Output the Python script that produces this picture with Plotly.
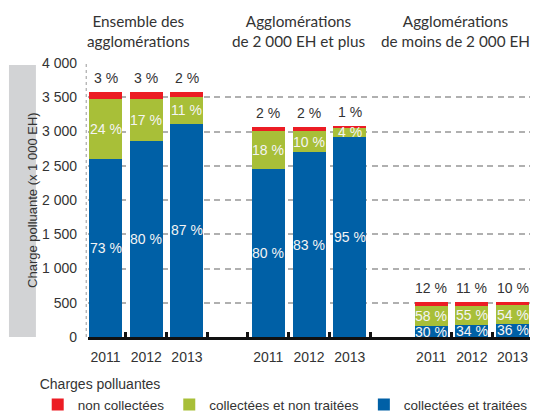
import plotly.graph_objects as go

years = ["2011", "2012", "2013"]
groups = ["Ensemble des<br>agglomérations",
          "Agglomérations<br>de 2 000 EH et plus",
          "Agglomérations<br>de moins de 2 000 EH"]

# values (x 1 000 EH), order: group1 2011-2013, group2 2011-2013, group3 2011-2013
traitees = [2600, 2860, 3110, 2453, 2700, 2925, 160, 180, 190]
non_traitees = [870, 610, 400, 554, 307, 135, 293, 278, 273]
non_collectees = [100, 100, 65, 63, 63, 15, 62, 57, 52]

pct_traitees = ["73 %", "80 %", "87 %", "80 %", "83 %", "95 %", "30 %", "34 %", "36 %"]
pct_non_traitees = ["24 %", "17 %", "11 %", "18 %", "10 %", "4 %", "58 %", "55 %", "54 %"]
pct_non_collectees = ["3 %", "3 %", "2 %", "2 %", "2 %", "1 %", "12 %", "11 %", "10 %"]

legend_title = "Charges polluantes"
names = ["collectées et traitées", "collectées et non traitées", "non collectées"]
colors = ["#0060A6", "#A8BF38", "#EC1C24"]

NUM = "Liberation Sans, Arial, sans-serif"
TITLE = "Lato, Open Sans, sans-serif"
TXT = "#333333"

# x positions: 3 groups of 3 bars with an empty slot between groups
xs = [g * 4 + i for g in range(len(groups)) for i in range(len(years))]
ticktext = [y for g in groups for y in years]

fig = go.Figure()
for vals, name, col in zip([traitees, non_traitees, non_collectees], names, colors):
    fig.add_trace(go.Bar(x=xs, y=vals, name=name, marker=dict(color=col, line=dict(width=0)),
                         width=0.81, hoverinfo="y+name"))

annotations = []
for i, x in enumerate(xs):
    b = traitees[i]
    g = non_traitees[i]
    r = non_collectees[i]
    annotations.append(dict(x=x, y=b / 2, text=pct_traitees[i], showarrow=False,
                            font=dict(family=NUM, size=14, color="#F4F4F4")))
    annotations.append(dict(x=x, y=b + g / 2, text=pct_non_traitees[i], showarrow=False,
                            font=dict(family=NUM, size=14, color="#F4F4F4")))
    annotations.append(dict(x=x, y=b + g + r, text=pct_non_collectees[i], showarrow=False,
                            yshift=14, font=dict(family=NUM, size=14, color=TXT)))

title_x = [0.8, 4.75, 8.6]
for gx, gt in zip(title_x, groups):
    annotations.append(dict(x=gx, xref="x", y=1.0, yref="paper", yanchor="bottom", yshift=11,
                            text=gt, showarrow=False, align="center",
                            font=dict(family=TITLE, size=15.3, color=TXT)))

annotations.append(dict(x=-0.146, xref="paper", y=0.5, yref="paper", text="Charge polluante (x 1 000 EH)",
                        textangle=-90, showarrow=False,
                        font=dict(family=NUM, size=13, color=TXT)))

shapes = [
    dict(type="rect", xref="paper", yref="paper", x0=-0.176, x1=-0.116, y0=0.0, y1=0.993,
         fillcolor="#D2D3D5", line=dict(width=0), layer="below"),
    dict(type="line", xref="paper", yref="paper", x0=-0.004, x1=-0.004, y0=0, y1=1,
         line=dict(color="#999999", width=1, dash="dot")),
]

# the page body has an 8px margin, so the figure is 8px smaller than the window
fig.update_layout(
    width=530, height=404,
    margin=dict(l=80, r=1, t=55, b=75, autoexpand=False),
    paper_bgcolor="white", plot_bgcolor="white",
    barmode="stack",
    separators=", ",
    showlegend=True,
    legend=dict(orientation="h", traceorder="reversed",
                x=-0.112, xanchor="left", y=-0.124, yanchor="top",
                title=dict(text=legend_title, side="top", font=dict(family=NUM, size=14, color=TXT)),
                font=dict(family=NUM, size=13.5, color=TXT),
                itemwidth=30, tracegroupgap=0),
    annotations=annotations,
    shapes=shapes,
    xaxis=dict(range=[-0.43, 10.6], tickvals=xs, ticktext=ticktext, ticks="",
               tickfont=dict(family=NUM, size=14, color=TXT),
               showgrid=False, zeroline=False,
               showline=True, linecolor="#111111", linewidth=2.5,
               ticklabelstandoff=5,
               minor=dict(tickvals=[0.5, 1.5, 2.5, 3.5, 4.5, 5.5, 6.5, 8.5, 9.5, 10.5],
                          ticks="inside", ticklen=5, tickwidth=2.5, tickcolor="#111111",
                          showgrid=False)),
    yaxis=dict(range=[0, 4000], tickvals=[0, 500, 1000, 1500, 2000, 2500, 3000, 3500, 4000],
               tickformat=",", tickfont=dict(family=NUM, size=14, color=TXT),
               showgrid=True, gridcolor="#B0B0B0", griddash="6px,4.5px", gridwidth=1.5,
               zeroline=False, showline=False, ticks="", ticklabelstandoff=10),
)

fig.write_html("out.html")
